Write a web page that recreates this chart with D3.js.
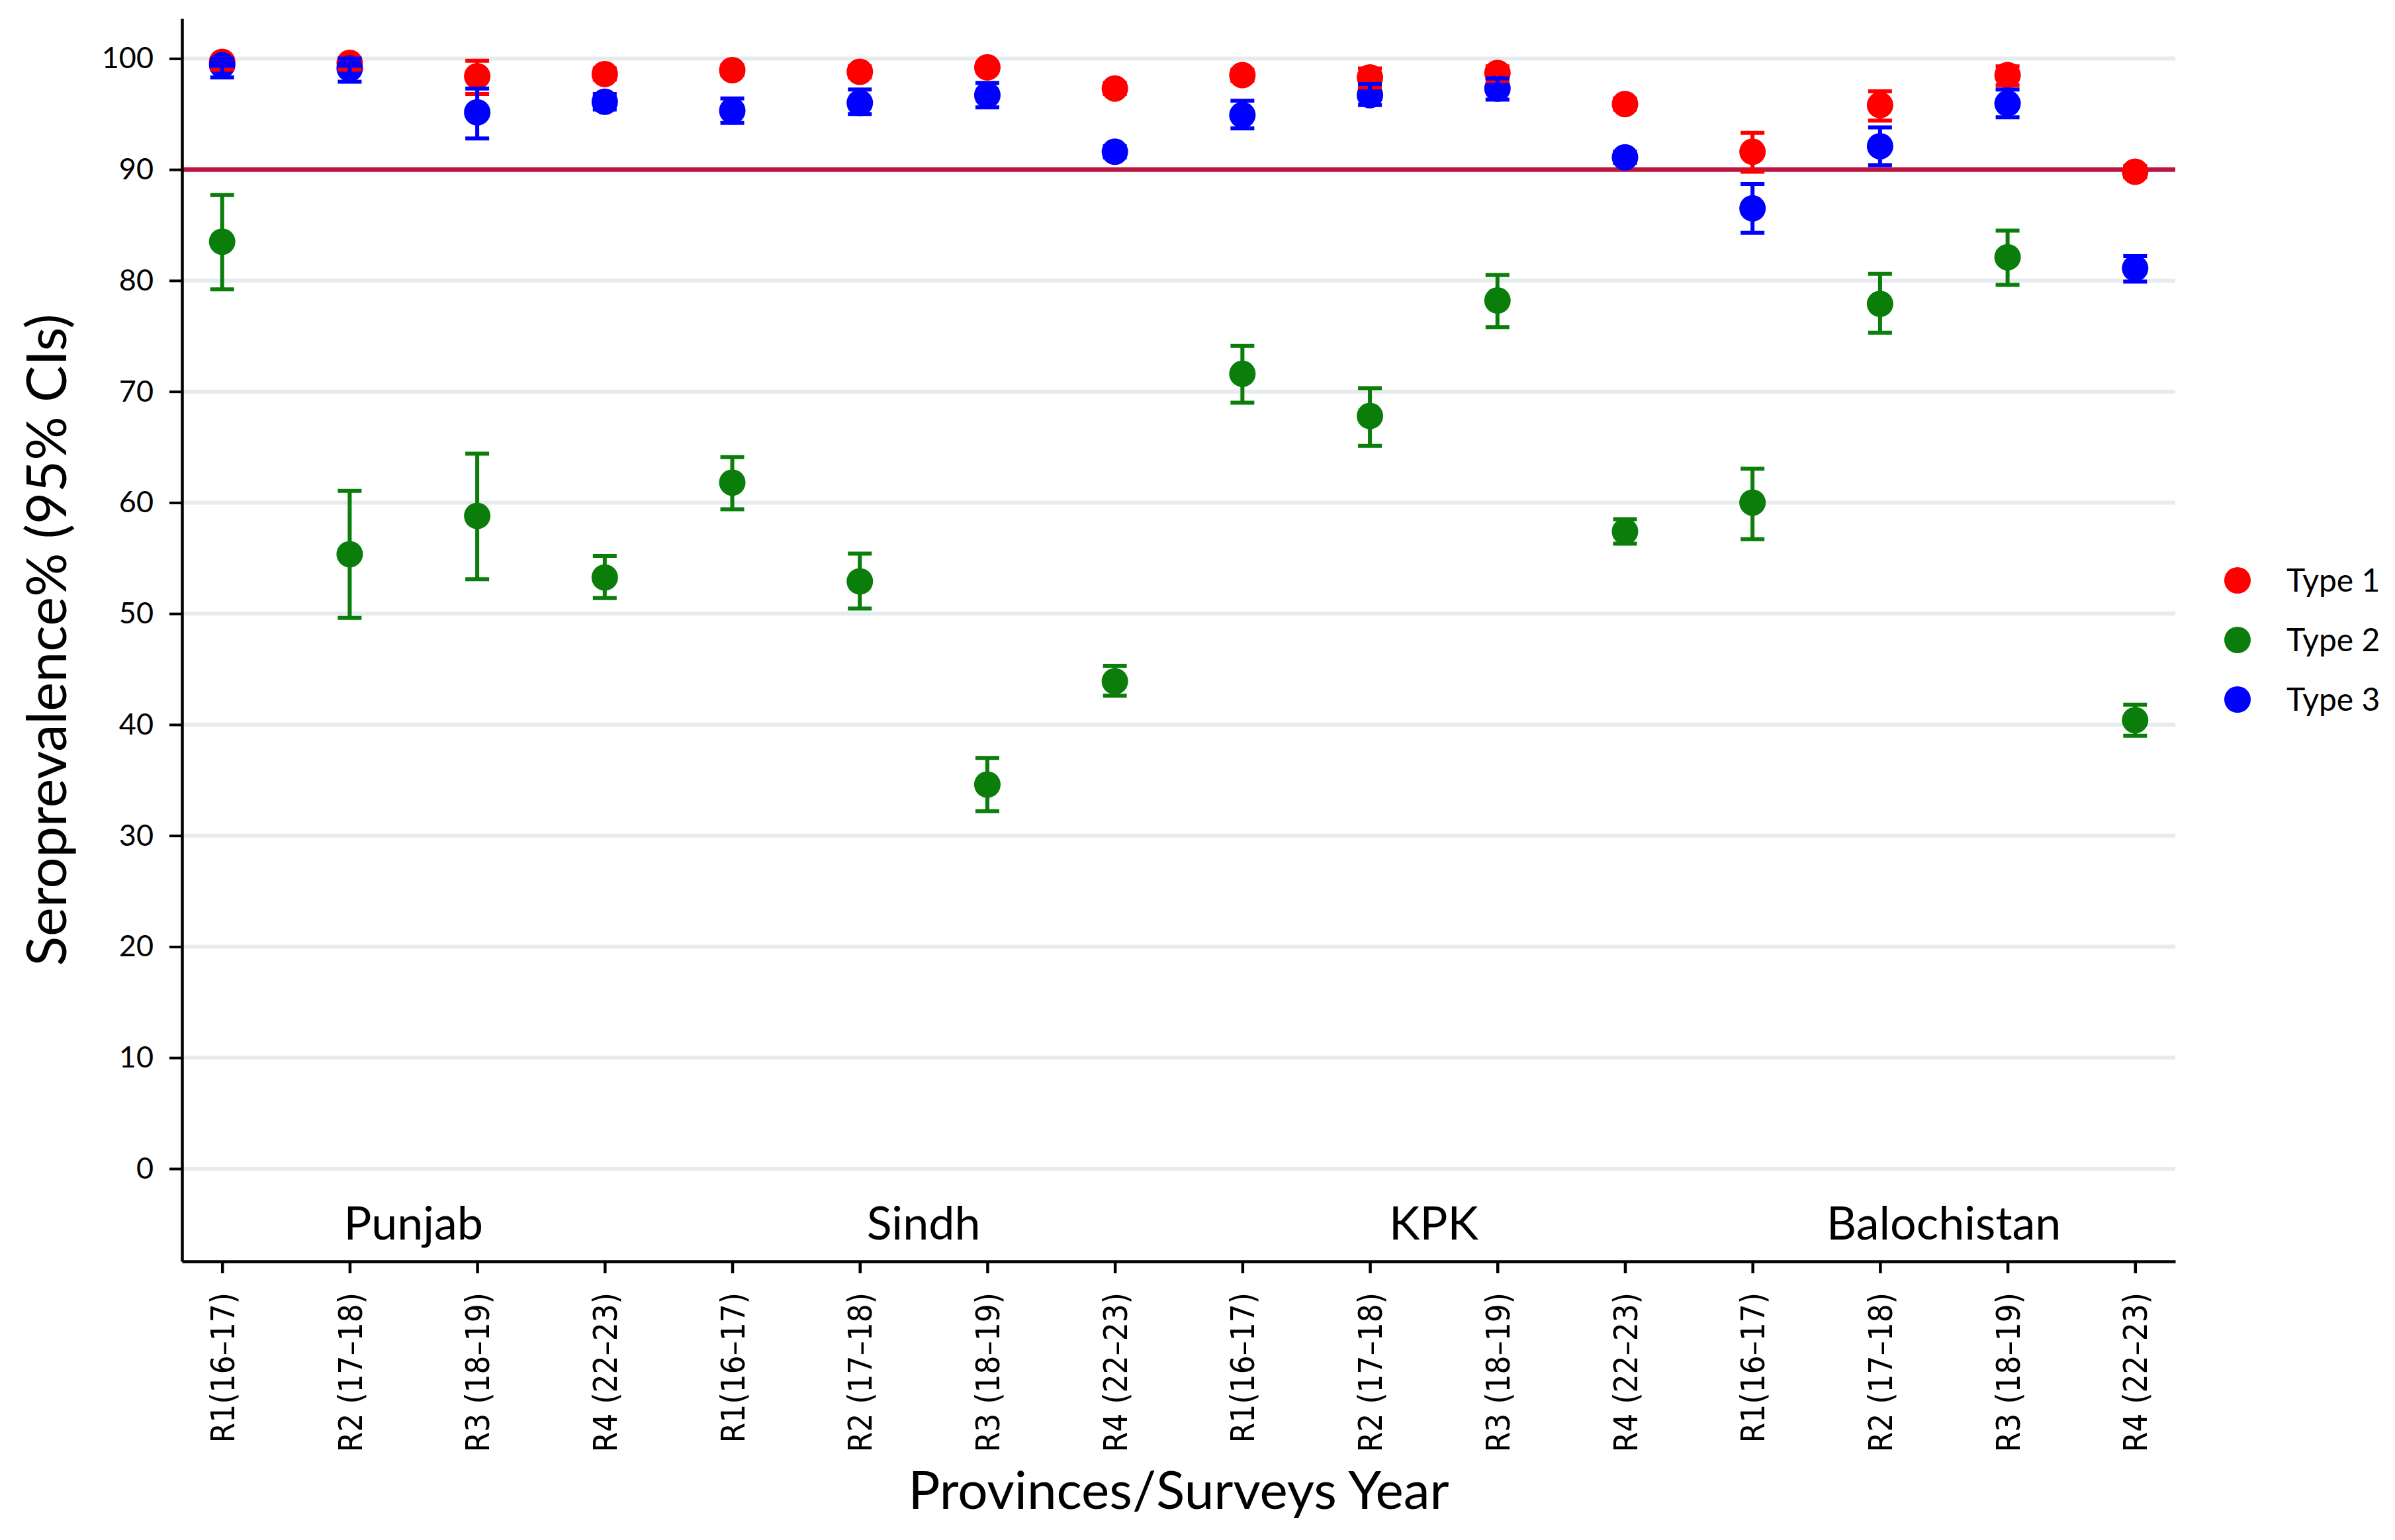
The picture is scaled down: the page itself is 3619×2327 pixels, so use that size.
<!DOCTYPE html>
<html>
<head>
<meta charset="utf-8">
<script src="https://cdn.jsdelivr.net/npm/d3@7"></script>
<style>
  html, body { margin: 0; padding: 0; background: #fff; }
  svg { display: block; }
</style>
</head>
<body>
<div id="chart"></div>
<script>
// survey rounds per province
const provinces = ["Punjab", "Sindh", "KPK", "Balochistan"];
const rounds = ["R1(16\u201317)", "R2 (17\u201318)", "R3 (18\u201319)", "R4 (22\u201323)"];
const seriesNames = ["Type 1", "Type 2", "Type 3"];
const seriesColors = ["#ff0000", "#0a7d0a", "#0000ff"];
const yTicks = [0, 10, 20, 30, 40, 50, 60, 70, 80, 90, 100];
const target = 90;

// point estimates, provinces in order, 4 rounds each
const type1 = [99.7, 99.6, 98.4, 98.6,  98.95, 98.8, 99.2, 97.3,  98.5, 98.3, 98.7, 95.9,  91.6, 95.8, 98.5, 89.8];
const type1Lo = [99.0, 99.0, 96.8, 98.1,  98.5, 98.3, 98.8, 96.8,  98.0, 97.4, 98.0, 95.4,  89.8, 94.4, 97.6, 89.3];
const type1Hi = [100.0, 100.0, 99.8, 99.1,  99.4, 99.3, 99.6, 97.8,  99.0, 99.1, 99.3, 96.4,  93.3, 97.05, 99.3, 90.3];

const type2 = [83.5, 55.35, 58.8, 53.25,  61.8, 52.9, 34.6, 43.9,  71.6, 67.8, 78.2, 57.4,  60.0, 77.9, 82.1, 40.4];
const type2Lo = [79.2, 49.6, 53.1, 51.4,  59.4, 50.45, 32.2, 42.6,  69.0, 65.1, 75.8, 56.3,  56.7, 75.3, 79.6, 39.0];
const type2Hi = [87.7, 61.05, 64.4, 55.2,  64.1, 55.4, 37.0, 45.3,  74.1, 70.3, 80.5, 58.5,  63.05, 80.6, 84.5, 41.8];

const type3 = [99.4, 99.1, 95.15, 96.1,  95.3, 96.0, 96.7, 91.6,  94.9, 96.7, 97.3, 91.1,  86.5, 92.1, 95.95, 81.1];
const type3Lo = [98.3, 97.9, 92.8, 95.4,  94.2, 95.0, 95.6, 91.1,  93.7, 95.8, 96.3, 90.6,  84.3, 90.4, 94.7, 79.9];
const type3Hi = [100.0, 100.0, 97.3, 96.8,  96.4, 97.2, 97.8, 92.1,  96.2, 97.7, 98.2, 91.6,  88.7, 93.8, 97.2, 82.2];

const width = 3619, height = 2327;
const margin = {top: 28, right: 332, bottom: 421, left: 275};
const textFont = "Lato, 'Open Sans', sans-serif";
const tickFont = "'DejaVu Sans Condensed', 'DejaVu Sans', sans-serif";

const keys = [];
provinces.forEach(p => rounds.forEach(r => keys.push(p + "|" + r)));

const values = [type1, type2, type3];
const lows = [type1Lo, type2Lo, type3Lo];
const highs = [type1Hi, type2Hi, type3Hi];
const points = [];
seriesNames.forEach((s, si) => {
    keys.forEach((k, i) => points.push({series: si, key: k, v: values[si][i], lo: lows[si][i], hi: highs[si][i]}));
});

const x = d3.scalePoint()
    .domain(keys)
    .range([margin.left, width - margin.right])
    .padding(0.315);

const y = d3.scaleLinear()
    .domain([-8.35, 103.6])
    .range([height - margin.bottom, margin.top]);

const svg = d3.select("#chart").append("svg")
    .attr("width", width)
    .attr("height", height)
    .attr("viewBox", [0, 0, width, height]);

// light horizontal gridlines
svg.append("g")
    .selectAll("line")
    .data(yTicks)
    .join("line")
    .attr("x1", margin.left)
    .attr("x2", width - margin.right)
    .attr("y1", d => y(d))
    .attr("y2", d => y(d))
    .attr("stroke", "#e6ecee")
    .attr("stroke-width", 6);

// 90% reference line
svg.append("line")
    .attr("x1", margin.left)
    .attr("x2", width - margin.right)
    .attr("y1", y(target))
    .attr("y2", y(target))
    .attr("stroke", "#bb1541")
    .attr("stroke-width", 7);

// y axis
const yAxis = svg.append("g")
    .attr("transform", `translate(${margin.left},0)`)
    .call(d3.axisLeft(y).tickValues(yTicks).tickSize(19).tickSizeOuter(0).tickPadding(24));
yAxis.select(".domain").attr("stroke", "#000").attr("stroke-width", 4.5);
yAxis.selectAll(".tick line").attr("stroke", "#000").attr("stroke-width", 4);
yAxis.selectAll(".tick text")
    .attr("font-family", textFont)
    .attr("font-size", 45)
    .attr("fill", "#000");

// x axis
const xAxis = svg.append("g")
    .attr("transform", `translate(0,${height - margin.bottom})`)
    .call(d3.axisBottom(x).tickSize(18).tickSizeOuter(0).tickFormat(k => k.split("|")[1]));
xAxis.select(".domain").attr("stroke", "#000").attr("stroke-width", 4.5);
xAxis.selectAll(".tick line").attr("stroke", "#000").attr("stroke-width", 4.5);
xAxis.selectAll(".tick text")
    .attr("font-family", tickFont)
    .attr("font-stretch", "condensed")
    .attr("font-size", 49)
    .attr("fill", "#000")
    .attr("text-anchor", "end")
    .attr("transform", "rotate(-90)")
    .attr("x", -47)
    .attr("y", 0)
    .attr("dy", "0.36em");

// province names inside the plot, centred between rounds 2 and 3
svg.append("g")
    .selectAll("text")
    .data(provinces)
    .join("text")
    .attr("x", p => (x(p + "|" + rounds[1]) + x(p + "|" + rounds[2])) / 2)
    .attr("y", height - margin.bottom - 33)
    .attr("text-anchor", "middle")
    .attr("font-family", textFont)
    .attr("font-size", 70)
    .attr("fill", "#000")
    .text(p => p);

// points first, error bars on top
svg.append("g")
    .selectAll("circle")
    .data(points)
    .join("circle")
    .attr("cx", d => x(d.key))
    .attr("cy", d => y(d.v))
    .attr("r", 20)
    .attr("fill", d => seriesColors[d.series]);

const capHalf = 18;
svg.append("g")
    .attr("fill", "none")
    .attr("stroke-width", 6)
    .selectAll("path")
    .data(points)
    .join("path")
    .attr("stroke", d => seriesColors[d.series])
    .attr("d", d => {
        const cx = x(d.key), t = y(d.hi), b = y(d.lo);
        return `M${cx - capHalf},${t}H${cx + capHalf}M${cx},${t}V${b}M${cx - capHalf},${b}H${cx + capHalf}`;
    });

// legend
const legend = svg.append("g")
    .selectAll("g")
    .data(seriesNames)
    .join("g")
    .attr("transform", (d, i) => `translate(3381,${877 + i * 90})`);
legend.append("circle")
    .attr("r", 20)
    .attr("fill", (d, i) => seriesColors[i]);
legend.append("text")
    .attr("x", 74)
    .attr("dy", "0.36em")
    .attr("font-family", textFont)
    .attr("font-size", 48)
    .attr("fill", "#000")
    .text(d => d);

// axis titles
svg.append("text")
    .attr("transform", `translate(100,${(margin.top + height - margin.bottom) / 2}) rotate(-90)`)
    .attr("text-anchor", "middle")
    .attr("font-family", textFont)
    .attr("font-size", 83)
    .attr("fill", "#000")
    .text("Seroprevalence% (95% CIs)");

svg.append("text")
    .attr("x", (margin.left + width - margin.right) / 2)
    .attr("y", 2280)
    .attr("text-anchor", "middle")
    .attr("font-family", textFont)
    .attr("font-size", 80)
    .attr("fill", "#000")
    .text("Provinces/Surveys Year");
</script>
</body>
</html>
